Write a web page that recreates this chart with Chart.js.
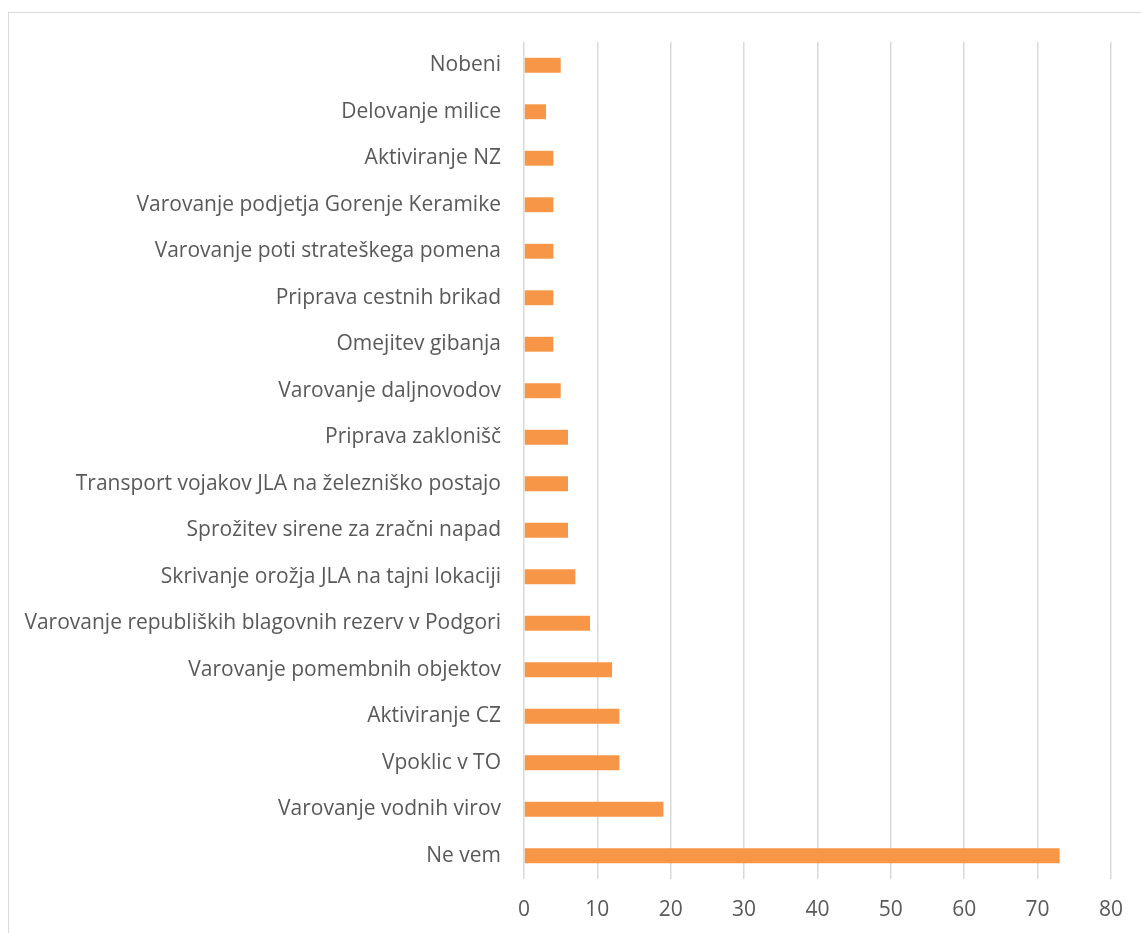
<!DOCTYPE html>
<html>
<head>
<meta charset="utf-8">
<script src="https://cdn.jsdelivr.net/npm/chart.js@4"></script>
<style>
  html, body { margin: 0; padding: 0; background: #fff; }
  #wrap { position: relative; width: 1141px; height: 933px; overflow: hidden; }
  #frame { position: absolute; left: 8px; top: 12px; width: 1160px; height: 960px; border: 1.5px solid #d9d9d9; box-sizing: border-box; pointer-events: none; }
  canvas { position: absolute; left: 0; top: 0; }
</style>
</head>
<body>
<div id="wrap">
  <canvas id="c" width="1141" height="933"></canvas>
  <div id="frame"></div>
</div>
<script>
const categories = [
  "Nobeni",
  "Delovanje milice",
  "Aktiviranje NZ",
  "Varovanje podjetja Gorenje Keramike",
  "Varovanje poti strateškega pomena",
  "Priprava cestnih brikad",
  "Omejitev gibanja",
  "Varovanje daljnovodov",
  "Priprava zaklonišč",
  "Transport vojakov JLA na železniško postajo",
  "Sprožitev sirene za zračni napad",
  "Skrivanje orožja JLA na tajni lokaciji",
  "Varovanje republiških blagovnih rezerv v Podgori",
  "Varovanje pomembnih objektov",
  "Aktiviranje CZ",
  "Vpoklic v TO",
  "Varovanje vodnih virov",
  "Ne vem"
];
const values = [5, 3, 4, 4, 4, 4, 4, 5, 6, 6, 6, 7, 9, 12, 13, 13, 19, 73];
const xTicks = [0, 10, 20, 30, 40, 50, 60, 70, 80];

const FONT = "'Open Sans', sans-serif";

new Chart(document.getElementById('c'), {
  type: 'bar',
  data: {
    labels: categories,
    datasets: [{
      data: values,
      backgroundColor: '#F79646',
      borderWidth: 0,
      barPercentage: 0.32,
      categoryPercentage: 1.0
    }]
  },
  options: {
    indexAxis: 'y',
    responsive: false,
    animation: false,
    devicePixelRatio: 1,
    layout: { padding: { top: 42, right: 28, left: 0, bottom: 0 } },
    plugins: { legend: { display: false }, tooltip: { enabled: false } },
    scales: {
      x: {
        min: 0, max: 80,
        afterBuildTicks: (s) => { s.ticks = xTicks.map(v => ({ value: v })); },
        afterFit: (s) => { s.height = 54; },
        grid: { color: '#d9d9d9', lineWidth: 1.5, drawTicks: false },
        border: { display: false },
        ticks: { color: '#595959', font: { family: FONT, size: 21 }, padding: 18, maxRotation: 0 }
      },
      y: {
        afterFit: (s) => { s.width = 524; },
        grid: { display: false, drawTicks: false },
        border: { display: false },
        ticks: { color: '#595959', font: { family: FONT, size: 21 }, padding: 23, autoSkip: false }
      }
    }
  }
});
</script>
</body>
</html>
